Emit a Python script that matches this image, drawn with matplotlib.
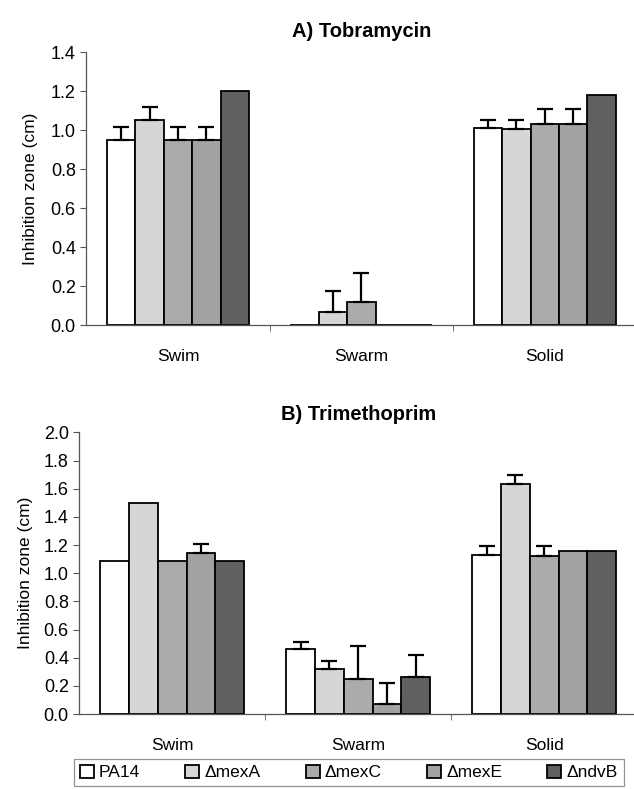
import matplotlib.pyplot as plt
import numpy as np

# data
categories = ["Swim", "Swarm", "Solid"]
strains = ["PA14", "\u0394mexA", "\u0394mexC", "\u0394mexE", "\u0394ndvB"]
colors = ["#ffffff", "#d6d6d6", "#ababab", "#a2a2a2", "#606060"]

# A) Tobramycin, rows = strains, cols = Swim/Swarm/Solid
tob_vals = [[0.95, 0.00, 1.01],
            [1.05, 0.065, 1.005],
            [0.95, 0.12, 1.03],
            [0.95, 0.00, 1.03],
            [1.20, 0.00, 1.18]]
tob_err = [[0.065, np.nan, 0.04],
           [0.07, 0.11, 0.045],
           [0.065, 0.145, 0.08],
           [0.065, np.nan, 0.08],
           [np.nan, np.nan, np.nan]]

# B) Trimethoprim
tri_vals = [[1.09, 0.46, 1.13],
            [1.50, 0.32, 1.63],
            [1.09, 0.25, 1.12],
            [1.14, 0.07, 1.16],
            [1.09, 0.26, 1.16]]
tri_err = [[np.nan, 0.05, 0.065],
           [np.nan, 0.055, 0.065],
           [np.nan, 0.235, 0.07],
           [0.07, 0.15, np.nan],
           [np.nan, 0.16, np.nan]]

plt.rcParams['font.family'] = ['Liberation Sans', 'DejaVu Sans']


def draw_panel(ax, vals, errs, title, ymax, title_pad, ylabel_pad):
    x = np.arange(len(categories))
    w = 0.155
    for i, name in enumerate(strains):
        pos = x + (i - 2) * w
        v = np.array(vals[i])
        e = np.array(errs[i])
        ax.bar(pos, v, width=w, color=colors[i], edgecolor="black",
               linewidth=1.3, label=name, zorder=2)
        ok = ~np.isnan(e)
        if ok.any():
            ax.errorbar(pos[ok], v[ok], yerr=[np.zeros(ok.sum()), e[ok]],
                        fmt='none', ecolor="black", elinewidth=1.6,
                        capsize=6, capthick=1.6, zorder=3)
    ax.set_xlim(-0.5, 2.5)
    ax.set_ylim(0, ymax)
    ax.set_yticks(np.arange(0, ymax + 0.01, 0.2))
    ax.set_yticklabels(["%.1f" % t for t in np.arange(0, ymax + 0.01, 0.2)])
    ax.set_xticks(x)
    ax.set_xticklabels(categories, fontsize=12.5)
    ax.set_xticks([0.5, 1.5], minor=True)
    ax.tick_params(axis='x', which='major', length=0, pad=17)
    ax.tick_params(axis='x', which='minor', length=4, direction='out', color="#555555")
    ax.tick_params(axis='y', length=4, labelsize=13, color="#555555")
    for s in ["top", "right"]:
        ax.spines[s].set_visible(False)
    for s in ["left", "bottom"]:
        ax.spines[s].set_color("#555555")
        ax.spines[s].set_linewidth(0.9)
    ax.set_ylabel("Inhibition zone (cm)", fontsize=12.5, labelpad=ylabel_pad)
    ax.set_title(title, fontsize=14.5, fontweight='bold', pad=title_pad)


def main():
    fig = plt.figure(figsize=(6.34, 7.89), dpi=100)
    ax1 = fig.add_axes([0.136, 0.588, 0.868, 0.346])
    ax2 = fig.add_axes([0.125, 0.095, 0.880, 0.357])
    draw_panel(ax1, tob_vals, tob_err, "A) Tobramycin", 1.4, 11, 9)
    draw_panel(ax2, tri_vals, tri_err, "B) Trimethoprim", 2.0, 9, 8)

    handles, labels = ax2.get_legend_handles_labels()
    leg = fig.legend(handles, labels, loc='center', bbox_to_anchor=(0.55, 0.021),
                     ncol=5, fontsize=12.5, frameon=True, fancybox=False,
                     handlelength=0.8, handleheight=0.8, handletextpad=0.3,
                     columnspacing=2.6, borderpad=0.35, borderaxespad=0)
    leg.get_frame().set_edgecolor("#777777")
    leg.get_frame().set_linewidth(0.9)
    fig.savefig("out.png", dpi=100)
    plt.close(fig)


if __name__ == "__main__":
    main()
